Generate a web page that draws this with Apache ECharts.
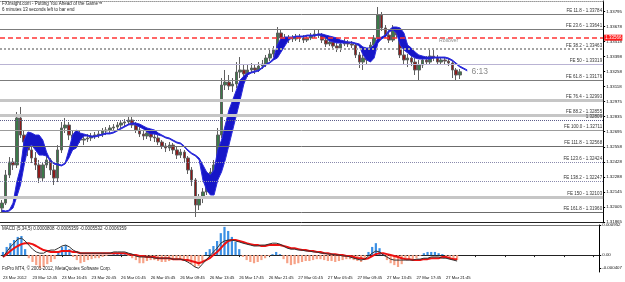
<!DOCTYPE html>
<html><head><meta charset="utf-8">
<script src="https://cdn.jsdelivr.net/npm/echarts@6/dist/echarts.min.js"></script>
<style>html,body{margin:0;padding:0;background:#fff}#c{width:625px;height:282px}</style>
</head><body><div id="c"></div>
<script>
// ---------------- DATA ----------------
const timeLabels = ['23 Mar 2012','23 Mar 12:45','23 Mar 16:45','23 Mar 20:45','26 Mar 01:45','26 Mar 05:45','26 Mar 09:45','26 Mar 13:45','26 Mar 17:45','26 Mar 21:45','27 Mar 01:45','27 Mar 05:45','27 Mar 09:45','27 Mar 13:45','27 Mar 17:45','27 Mar 21:45'];

const openP = [
1.32000,1.32046,1.32304,1.32423,1.32396,1.32828,1.32671,1.32607,1.32534,1.32460,
1.32396,1.32276,1.32396,1.32442,1.32350,1.32276,1.32534,1.32736,1.32763,1.32671,
1.32644,1.32681,1.32625,1.32635,1.32644,1.32662,1.32671,1.32681,1.32708,1.32717,
1.32736,1.32745,1.32763,1.32782,1.32791,1.32809,1.32763,1.32717,1.32681,1.32662,
1.32690,1.32653,1.32644,1.32607,1.32570,1.32552,1.32579,1.32534,1.32487,1.32515,
1.32460,1.32350,1.32258,1.32028,1.32092,1.32148,1.32258,1.32331,1.32396,1.32671,
1.33131,1.33158,1.33122,1.33140,1.33250,1.33269,1.33232,1.33269,1.33287,1.33269,
1.33305,1.33324,1.33379,1.33416,1.33453,1.33609,1.33563,1.33544,1.33563,1.33554,
1.33572,1.33563,1.33544,1.33563,1.33581,1.33600,1.33590,1.33544,1.33508,1.33526,
1.33489,1.33471,1.33508,1.33526,1.33508,1.33498,1.33407,1.33342,1.33379,1.33361,
1.33498,1.33563,1.33774,1.33655,1.33590,1.33544,1.33636,1.33590,1.33407,1.33361,
1.33379,1.33342,1.33269,1.33315,1.33361,1.33342,1.33397,1.33379,1.33342,1.33361,
1.33351,1.33333,1.33269,1.33223];
const closeP = [
1.32046,1.32304,1.32423,1.32396,1.32828,1.32671,1.32607,1.32534,1.32460,1.32396,
1.32276,1.32396,1.32442,1.32350,1.32276,1.32534,1.32736,1.32763,1.32671,1.32644,
1.32681,1.32625,1.32635,1.32644,1.32662,1.32671,1.32681,1.32708,1.32717,1.32736,
1.32745,1.32763,1.32782,1.32791,1.32809,1.32763,1.32717,1.32681,1.32662,1.32690,
1.32653,1.32644,1.32607,1.32570,1.32552,1.32579,1.32534,1.32487,1.32515,1.32460,
1.32350,1.32258,1.32028,1.32092,1.32148,1.32258,1.32331,1.32396,1.32671,1.33131,
1.33158,1.33122,1.33140,1.33250,1.33269,1.33232,1.33269,1.33287,1.33269,1.33305,
1.33324,1.33379,1.33416,1.33453,1.33609,1.33563,1.33544,1.33563,1.33554,1.33572,
1.33563,1.33544,1.33563,1.33581,1.33600,1.33590,1.33544,1.33508,1.33526,1.33489,
1.33471,1.33508,1.33526,1.33508,1.33498,1.33407,1.33342,1.33379,1.33361,1.33498,
1.33563,1.33774,1.33655,1.33590,1.33544,1.33636,1.33590,1.33407,1.33361,1.33379,
1.33342,1.33269,1.33315,1.33361,1.33342,1.33397,1.33379,1.33342,1.33361,1.33351,
1.33333,1.33269,1.33223,1.33252];
const highP = [
1.32074,1.32350,1.32469,1.32460,1.32883,1.32929,1.32717,1.32644,1.32570,1.32515,
1.32442,1.32423,1.32487,1.32460,1.32396,1.32579,1.32791,1.32828,1.32791,1.32717,
1.32708,1.32717,1.32671,1.32681,1.32690,1.32699,1.32717,1.32736,1.32745,1.32763,
1.32772,1.32791,1.32809,1.32818,1.32846,1.32837,1.32791,1.32745,1.32708,1.32717,
1.32708,1.32681,1.32671,1.32625,1.32598,1.32607,1.32598,1.32561,1.32543,1.32534,
1.32478,1.32377,1.32276,1.32129,1.32184,1.32285,1.32368,1.32442,1.32736,1.33195,
1.33269,1.33223,1.33195,1.33342,1.33388,1.33324,1.33315,1.33333,1.33324,1.33342,
1.33361,1.33407,1.33453,1.33489,1.33664,1.33636,1.33600,1.33590,1.33590,1.33600,
1.33600,1.33590,1.33590,1.33609,1.33636,1.33645,1.33609,1.33563,1.33554,1.33544,
1.33517,1.33535,1.33554,1.33544,1.33535,1.33517,1.33434,1.33407,1.33416,1.33526,
1.33590,1.33848,1.33802,1.33682,1.33618,1.33682,1.33655,1.33609,1.33453,1.33416,
1.33407,1.33379,1.33361,1.33388,1.33397,1.33453,1.33471,1.33407,1.33388,1.33388,
1.33379,1.33351,1.33287,1.33278];
const lowP = [
1.31964,1.32028,1.32276,1.32350,1.32368,1.32644,1.32570,1.32478,1.32414,1.32350,
1.32230,1.32249,1.32368,1.32304,1.32212,1.32239,1.32506,1.32690,1.32625,1.32598,
1.32607,1.32598,1.32579,1.32607,1.32616,1.32635,1.32644,1.32653,1.32671,1.32690,
1.32708,1.32717,1.32736,1.32754,1.32763,1.32736,1.32690,1.32653,1.32625,1.32635,
1.32616,1.32607,1.32579,1.32543,1.32515,1.32524,1.32497,1.32451,1.32460,1.32414,
1.32313,1.32203,1.31918,1.31982,1.32046,1.32120,1.32221,1.32304,1.32368,1.32644,
1.33085,1.33085,1.33067,1.33103,1.33195,1.33195,1.33204,1.33241,1.33232,1.33250,
1.33278,1.33296,1.33351,1.33388,1.33434,1.33526,1.33508,1.33517,1.33526,1.33535,
1.33526,1.33517,1.33526,1.33544,1.33563,1.33563,1.33517,1.33480,1.33489,1.33462,
1.33434,1.33434,1.33489,1.33480,1.33471,1.33379,1.33287,1.33269,1.33324,1.33342,
1.33471,1.33544,1.33627,1.33563,1.33517,1.33526,1.33563,1.33379,1.33324,1.33296,
1.33305,1.33223,1.33177,1.33287,1.33315,1.33324,1.33351,1.33315,1.33324,1.33324,
1.33305,1.33195,1.33177,1.33186];

// the two moving-average lines that bound the blue band
const bandHi = [
1.31982,1.31973,1.31982,1.32046,1.32239,1.32368,1.32625,1.32699,1.32690,1.32671,
1.32671,1.32625,1.32515,1.32442,1.32414,1.32405,1.32396,1.32414,1.32534,1.32671,
1.32717,1.32690,1.32681,1.32671,1.32662,1.32662,1.32671,1.32681,1.32690,1.32690,
1.32699,1.32717,1.32736,1.32754,1.32772,1.32782,1.32782,1.32772,1.32754,1.32736,
1.32727,1.32717,1.32690,1.32671,1.32653,1.32644,1.32625,1.32607,1.32598,1.32570,
1.32534,1.32506,1.32487,1.32460,1.32396,1.32331,1.32304,1.32350,1.32534,1.32625,
1.32763,1.32901,1.32993,1.33085,1.33177,1.33214,1.33241,1.33250,1.33260,1.33269,
1.33296,1.33324,1.33342,1.33379,1.33498,1.33563,1.33572,1.33572,1.33572,1.33581,
1.33581,1.33581,1.33590,1.33590,1.33590,1.33600,1.33600,1.33590,1.33581,1.33572,
1.33563,1.33544,1.33535,1.33526,1.33526,1.33517,1.33508,1.33480,1.33471,1.33471,
1.33498,1.33563,1.33572,1.33590,1.33636,1.33664,1.33664,1.33655,1.33609,1.33498,
1.33471,1.33434,1.33407,1.33397,1.33388,1.33388,1.33388,1.33388,1.33388,1.33388,
1.33379,1.33361,1.33333,1.33305,1.33287,1.33269];
const bandLo = [
1.31964,1.31964,1.31973,1.32000,1.32102,1.32212,1.32396,1.32552,1.32579,1.32534,
1.32487,1.32487,1.32478,1.32432,1.32405,1.32396,1.32387,1.32405,1.32460,1.32534,
1.32552,1.32625,1.32662,1.32662,1.32653,1.32653,1.32662,1.32671,1.32681,1.32681,
1.32690,1.32708,1.32727,1.32745,1.32763,1.32772,1.32763,1.32745,1.32727,1.32699,
1.32681,1.32681,1.32671,1.32662,1.32644,1.32635,1.32616,1.32598,1.32589,1.32561,
1.32524,1.32497,1.32478,1.32442,1.32258,1.32166,1.32120,1.32120,1.32258,1.32331,
1.32442,1.32579,1.32717,1.32855,1.32993,1.33140,1.33223,1.33241,1.33250,1.33260,
1.33287,1.33315,1.33333,1.33361,1.33379,1.33434,1.33489,1.33544,1.33563,1.33572,
1.33572,1.33572,1.33581,1.33581,1.33581,1.33590,1.33581,1.33563,1.33535,1.33526,
1.33517,1.33517,1.33517,1.33517,1.33517,1.33508,1.33489,1.33407,1.33361,1.33342,
1.33379,1.33517,1.33554,1.33572,1.33618,1.33636,1.33609,1.33498,1.33453,1.33425,
1.33397,1.33379,1.33370,1.33370,1.33370,1.33370,1.33379,1.33379,1.33379,1.33379,
1.33370,1.33351,1.33324,1.33296,1.33278,1.33260];

// MACD sub-window
const macdHist = [
0.0001,0.00026,0.00038,0.00048,0.00058,0.00061,0.00019,
-0.0001,-0.00022,-0.00032,-0.00042,-0.00038,-0.00029,-0.00022,-0.00013,
0.0001,0.00026,0.00032,0.00019,
-0.00006,-0.00016,-0.00026,-0.00022,-0.00016,-0.00013,-0.0001,-0.0001,-0.00006,-0.00003,
0,0.00003,0.00006,0.00006,0.00003,-0.00003,
-0.0001,-0.00016,-0.00026,-0.00026,-0.00019,-0.00016,-0.00016,-0.00019,-0.00022,-0.00022,
-0.00019,-0.00016,-0.00016,-0.00013,-0.00016,-0.00022,-0.00029,-0.00038,-0.00035,-0.00019,
0.0001,0.00019,0.00029,0.00045,0.0007,0.0009,0.00077,0.00058,0.00042,0.00019,
-0.00006,-0.00016,-0.00022,-0.00026,-0.00022,-0.00016,-0.0001,-0.00003,
0.00003,0.0001,0.00003,
-0.00013,-0.00026,-0.00032,-0.00029,-0.00026,-0.00022,-0.00019,-0.00019,-0.00016,-0.00013,
-0.00013,-0.00016,-0.00019,-0.00019,-0.00022,-0.00019,-0.00016,-0.00013,-0.00013,-0.00016,
-0.00019,-0.00022,-0.00016,
0.0001,0.00026,0.00038,0.00022,0.00006,
-0.00016,-0.00026,-0.00032,-0.00038,-0.00029,-0.00016,-0.00013,-0.00013,-0.0001,-0.00003,
0.00006,0.0001,0.0001,0.0001,0.00006,0.00003,
-0.00006,-0.00013,-0.00013,-0.00016];
const macdMain = [
-0.00006,0.0001,0.00026,0.00038,0.00051,0.00054,0.00045,0.00032,0.00019,0.0001,
0.00006,0.00006,0.00013,0.00016,0.00016,0.00022,0.00029,0.00032,0.00026,0.00016,
0.0001,0.00006,0.00006,0.00006,0.00006,0.00006,0.00006,0.00006,0.00006,0.00006,
0.0001,0.0001,0.0001,0.0001,0.00006,0.00003,-0.00003,-0.00006,-0.00006,-0.00006,
-0.00006,-0.0001,-0.0001,-0.0001,-0.0001,-0.0001,-0.00013,-0.00013,-0.00013,-0.00016,
-0.00022,-0.00029,-0.00038,-0.00042,-0.00029,-0.00016,-0.00003,0.0001,0.00022,0.00038,
0.00045,0.00048,0.00048,0.00045,0.00042,0.00038,0.00035,0.00032,0.00029,0.00029,
0.00032,0.00032,0.00035,0.00038,0.00038,0.00035,0.00029,0.00022,0.00019,0.00019,
0.00016,0.00016,0.00013,0.00013,0.0001,0.0001,0.00006,0.00006,0.00003,0.00003,
0,0,-0.00003,-0.00003,-0.00006,-0.0001,-0.00013,-0.00016,-0.00013,-0.00003,
0.00006,0.00013,0.0001,0,-0.00006,-0.00013,-0.00016,-0.00016,-0.00016,-0.00016,
-0.00016,-0.00016,-0.00013,-0.00013,-0.0001,-0.0001,-0.00006,-0.00006,-0.00006,-0.0001,
-0.0001,-0.00013,-0.00016,-0.00019];
const macdSignal = [
-0.00006,0.00003,0.00013,0.00022,0.00029,0.00035,0.00038,0.00038,0.00035,0.00029,
0.00022,0.00016,0.00013,0.0001,0.0001,0.0001,0.00013,0.00013,0.00013,0.0001,
0.0001,0.00006,0.00006,0.00006,0.00006,0.00006,0.00006,0.00006,0.00006,0.00006,
0.00006,0.00006,0.00006,0.00006,0.00003,0,0,-0.00003,-0.00003,-0.00006,
-0.00006,-0.00006,-0.0001,-0.0001,-0.0001,-0.0001,-0.00013,-0.00013,-0.00013,-0.00016,
-0.00016,-0.00019,-0.00022,-0.00026,-0.00022,-0.00016,-0.0001,0,0.0001,0.00022,
0.00035,0.00045,0.00048,0.00048,0.00045,0.00042,0.00038,0.00035,0.00032,0.00032,
0.00029,0.00029,0.00032,0.00032,0.00032,0.00032,0.00029,0.00026,0.00022,0.00022,
0.00019,0.00016,0.00016,0.00013,0.00013,0.0001,0.0001,0.00006,0.00006,0.00003,
0.00003,0,0,-0.00003,-0.00003,-0.00006,-0.0001,-0.0001,-0.00013,-0.0001,
-0.00003,0.00003,0.00006,0.00006,0.00003,0,-0.00003,-0.00006,-0.0001,-0.00013,
-0.00013,-0.00016,-0.00016,-0.00016,-0.00013,-0.00013,-0.0001,-0.0001,-0.0001,-0.00006,
-0.00006,-0.0001,-0.00013,-0.00013];

// Fibonacci expansion levels
const feLevels = ['11.8','23.6','38.2','50','61.8','76.4','88.2','100.0','111.8','123.6','138.2','150','161.8'];
const fePrices = [1.33784,1.33641,1.33463,1.33319,1.33176,1.32993,1.32855,1.32711,1.32568,1.32424,1.32247,1.32103,1.31960];
const extraLevel = 1.32809;
const rolloverPrice = 1.33566;

const yTickLabels = ['1.31865','1.32005','1.32145','1.32288','1.32428','1.32558','1.32695','1.32835','1.32975','1.33118','1.33258','1.33398','1.33518','1.33678','1.33795'];
const macdTickValues = [-0.000407, 0, 0.000952];
const macdTickLabels = ['-0.000407','0.00','0.000952'];

const titleLine1 = 'FXInsight.com - Putting You Ahead of the Game\u2122';
const titleLine2 = '6 minutes 13 seconds left to bar end';
const macdTitle = 'MACD (5,34,5) 0.0000808 -0.0005359 -0.0005532 -0.0006359';
const footer = 'FxPro MT4, \u00a9 2001-2012, MetaQuotes Software Corp.';
const countdown = '6:13';

// ---------------- LAYOUT / STYLE ----------------
const FONT = 'Liberation Sans';
const N = 162;                       // slots on the time axis
const cats = Array.from({length: N}, (_, i) => String(i));
const yMin = 1.31872, yMax = 1.33903, yStep = 0.001383;
const yTickValues = yTickLabels.map((_, k) => +(yMin + k * yStep).toFixed(6));
const feStyles = [
  {color:'#7c7c7c', width:1, type:'solid'},
  {color:'#7c7c7c', width:1, type:'solid'},
  {color:'#a4a4a4', width:2, type:'dotted'},
  {color:'#b9b3d3', width:1, type:'solid'},
  {color:'#7c7c7c', width:1, type:'solid'},
  {color:'#c6c6c6', width:3, type:'solid'},
  {color:'#c6c6c6', width:3, type:'solid'},
  {color:'#9c9c9c', width:1, type:'solid'},
  {color:'#6c6c6c', width:1, type:'solid'},
  {color:'#8a8aac', width:1, type:'dotted'},
  {color:'#8a8aac', width:1, type:'dotted'},
  {color:'#c6c6c6', width:3, type:'solid'},
  {color:'#6c6c6c', width:1, type:'solid'}
];
const smallText = {fontSize: 4.5, fontFamily: FONT, color: '#222', fontWeight: 'normal'};
const lineLabel = {show: true, position: 'insideEndTop', distance: [1, 1], fontSize: 4.5, color: '#333', fontFamily: FONT};

const last = closeP.length - 1;
const candleData = openP.map((o, i) => [o, closeP[i], lowP[i], highP[i]]);
const bandDiff = bandHi.map((h, i) => h - bandLo[i]);

// one invisible carrier series per horizontal level (series-level lineStyle sets the colour)
function levelSeries(price, lineStyle, label, z) {
  return {type: 'line', xAxisIndex: 0, yAxisIndex: 0, data: [closeP[last]], symbol: 'none', silent: true,
    lineStyle: {opacity: 0}, z: z || 2,
    markLine: {silent: true, symbol: ['none', 'none'], animation: false, precision: 5,
      lineStyle: lineStyle, label: label, emphasis: {disabled: true},
      data: [{yAxis: price}]}};
}
const levelSeriesList = fePrices.map((p, i) =>
  levelSeries(p, feStyles[i], Object.assign({}, lineLabel, {formatter: 'FE ' + feLevels[i] + ' - ' + p.toFixed(5)})));
levelSeriesList.push(levelSeries(extraLevel, {color: '#5d5d8a', width: 1, type: 'dotted'},
  Object.assign({}, lineLabel, {formatter: extraLevel.toFixed(5)})));
levelSeriesList.push(levelSeries(rolloverPrice, {color: '#ff3434', width: 1.6, type: [5, 3]},
  {show: true, position: 'end', distance: 1, formatter: rolloverPrice.toFixed(5), fontSize: 4.5, fontFamily: FONT,
   backgroundColor: '#ff1a1a', color: '#fff', padding: [1, 1, 0, 1]}));
levelSeriesList.push(levelSeries(closeP[last], {opacity: 0, width: 0},
  {show: true, position: 'end', distance: 1, formatter: closeP[last].toFixed(5), fontSize: 4.5, fontFamily: FONT,
   backgroundColor: '#000', color: '#fff', padding: [1, 1, 0, 1]}, 6));

const chart = echarts.init(document.getElementById('c'), null, {renderer: 'canvas'});
chart.setOption({
  animation: false,
  backgroundColor: '#fff',
  textStyle: {fontFamily: FONT},
  title: [
    {text: titleLine1, left: 2, top: 1, padding: 0, textStyle: smallText},
    {text: titleLine2, left: 2, top: 7, padding: 0, textStyle: smallText},
    {text: macdTitle, left: 2, top: 226, padding: 0, textStyle: smallText},
    {text: footer, left: 2, top: 266, padding: 0, textStyle: smallText}
  ],
  grid: [
    {left: 0, right: 18, top: 1, bottom: 60},
    {left: 0, right: 18, top: 225, bottom: 10}
  ],
  xAxis: [
    {gridIndex: 0, type: 'category', data: cats, boundaryGap: true,
     axisLine: {show: true, lineStyle: {color: '#222', width: 1}}, axisTick: {show: false}, axisLabel: {show: false}},
    {gridIndex: 1, type: 'category', data: cats, boundaryGap: true,
     axisLine: {show: true, lineStyle: {color: '#222', width: 1}},
     axisTick: {show: true, interval: 7, alignWithLabel: true, length: 2, lineStyle: {color: '#222'}},
     axisLabel: {show: true, interval: 7, align: 'left', margin: 4, fontSize: 4.2, color: '#111', fontFamily: FONT,
       formatter: (v, idx) => timeLabels[idx / 8] || ''}},
    {gridIndex: 1, type: 'category', data: cats, position: 'top', boundaryGap: true,
     axisLine: {show: true, lineStyle: {color: '#777', width: 1}}, axisTick: {show: false}, axisLabel: {show: false}},
    {gridIndex: 0, type: 'category', data: cats, position: 'top', boundaryGap: true,
     axisLine: {show: true, lineStyle: {color: '#999', width: 1, type: 'dotted'}}, axisTick: {show: false}, axisLabel: {show: false}}
  ],
  yAxis: [
    {gridIndex: 0, type: 'value', position: 'right', min: yMin, max: yMax,
     axisLine: {show: true, lineStyle: {color: '#000'}},
     axisTick: {show: true, length: 2, customValues: yTickValues, lineStyle: {color: '#000'}},
     axisLabel: {show: true, customValues: yTickValues, margin: 3, fontSize: 4.4, color: '#111', fontFamily: FONT,
       formatter: v => { const k = Math.round((v - yMin) / yStep); return yTickLabels[k] || ''; }},
     splitLine: {show: false}},
    {gridIndex: 1, type: 'value', position: 'right', min: -0.00054, max: 0.00096,
     axisLine: {show: true, lineStyle: {color: '#000'}},
     axisTick: {show: true, length: 2, customValues: macdTickValues, lineStyle: {color: '#000'}},
     axisLabel: {show: true, customValues: macdTickValues, margin: 3, fontSize: 4.4, color: '#111', fontFamily: FONT,
       formatter: v => { let b = 0; macdTickValues.forEach((t, i) => { if (Math.abs(t - v) < Math.abs(macdTickValues[b] - v)) b = i; }); return macdTickLabels[b]; }},
     splitLine: {show: false}}
  ],
  series: levelSeriesList.concat([
    {type: 'candlestick', xAxisIndex: 0, yAxisIndex: 0, data: candleData, barWidth: 3, z: 3,
     itemStyle: {color: '#3b7a4a', color0: '#8e1a1a', borderColor: '#606060', borderColor0: '#606060', borderWidth: 1},
     markPoint: {silent: true, symbol: 'rect', symbolSize: 1, itemStyle: {color: 'rgba(0,0,0,0)'},
       data: [
         {coord: [last + 3, closeP[last]], label: {show: true, position: 'right', distance: 0, formatter: countdown, fontSize: 8.5, color: '#8a8a8a', fontFamily: FONT}},
         {coord: [120, rolloverPrice], label: {show: true, position: 'bottom', distance: 0, formatter: 'Rollover', fontSize: 5.2, color: '#8c8c8c', fontFamily: FONT}}
       ]}},
    {type: 'line', name: 'bandLo', xAxisIndex: 0, yAxisIndex: 0, data: bandLo, stack: 'band', symbol: 'none',
     lineStyle: {color: '#2b2bdc', width: 1}, z: 4},
    {type: 'line', name: 'bandHi', xAxisIndex: 0, yAxisIndex: 0, data: bandDiff, stack: 'band', symbol: 'none',
     lineStyle: {color: '#2b2bdc', width: 1}, areaStyle: {color: '#1616c8', opacity: 1}, z: 4},
    {type: 'bar', xAxisIndex: 1, yAxisIndex: 1, data: macdHist, barWidth: '60%',
     itemStyle: {color: p => p.value >= 0 ? '#3a8fe4' : '#f6a287'}},
    {type: 'line', xAxisIndex: 1, yAxisIndex: 1, data: macdMain, symbol: 'none', lineStyle: {color: '#333', width: 1}, z: 4},
    {type: 'line', xAxisIndex: 1, yAxisIndex: 1, data: macdSignal, symbol: 'none', lineStyle: {color: '#ee1111', width: 2}, z: 3}
  ])
});
</script>
</body></html>
